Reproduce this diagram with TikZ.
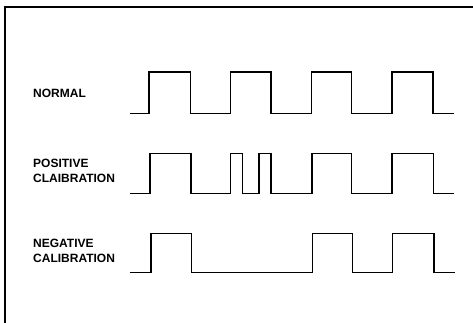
\documentclass[tikz,border=0pt]{standalone}
\usepackage{fontspec}
\setmainfont{Liberation Sans}
\tikzset{
  wave/.style={line width=1.2pt, line join=miter},
  signame/.style={anchor=west, inner sep=0pt, align=left,
    font=\bfseries\fontsize{12}{15}\selectfont}
}
\begin{document}
\begin{tikzpicture}[x=1pt,y=-1pt]
      \useasboundingbox (0,0) rectangle (473,323);
      % frame
      \draw[line width=1.3pt] (5,323) -- (5,7) -- (473,7);
      % labels
      \node[signame] (normal) at (33,93.5) {NORMAL};
      \node[signame] (positive) at (33,171) {POSITIVE\\CLAIBRATION};
      \node[signame] (negative) at (33,250.5) {NEGATIVE\\CALIBRATION};
      % normal
      \draw[wave] (130,113.7) -- (149,113.7) -- (149,72) -- (190.5,72)
        -- (190.5,113.7) -- (230.5,113.7) -- (230.5,72) -- (271,72)
        -- (271,113.7) -- (311.7,113.7) -- (311.7,72) -- (351.3,72)
        -- (351.3,113.7) -- (392,113.7) -- (392,72) -- (433,72)
        -- (433,113.7) -- (453.5,113.7);
      % positive calibration
      \draw[wave] (130,193.7) -- (150,193.7) -- (150,153.7) -- (191,153.7)
        -- (191,193.7) -- (230.7,193.7) -- (230.7,153.7) -- (242.7,153.7)
        -- (242.7,193.7) -- (259,193.7) -- (259,153.7) -- (271,153.7)
        -- (271,193.7) -- (312,193.7) -- (312,153.7) -- (351.5,153.7)
        -- (351.5,193.7) -- (392,193.7) -- (392,153.7) -- (433.3,153.7)
        -- (433.3,193.7) -- (454,193.7);
      % negative calibration
      \draw[wave] (130,272.7) -- (151,272.7) -- (151,233.3) -- (191.3,233.3)
        -- (191.3,272.7) -- (312.7,272.7) -- (312.7,233.3) -- (352.3,233.3)
        -- (352.3,272.7) -- (392.7,272.7) -- (392.7,233.3) -- (434,233.3)
        -- (434,272.7) -- (454.7,272.7);
    \end{tikzpicture}
\end{document}
